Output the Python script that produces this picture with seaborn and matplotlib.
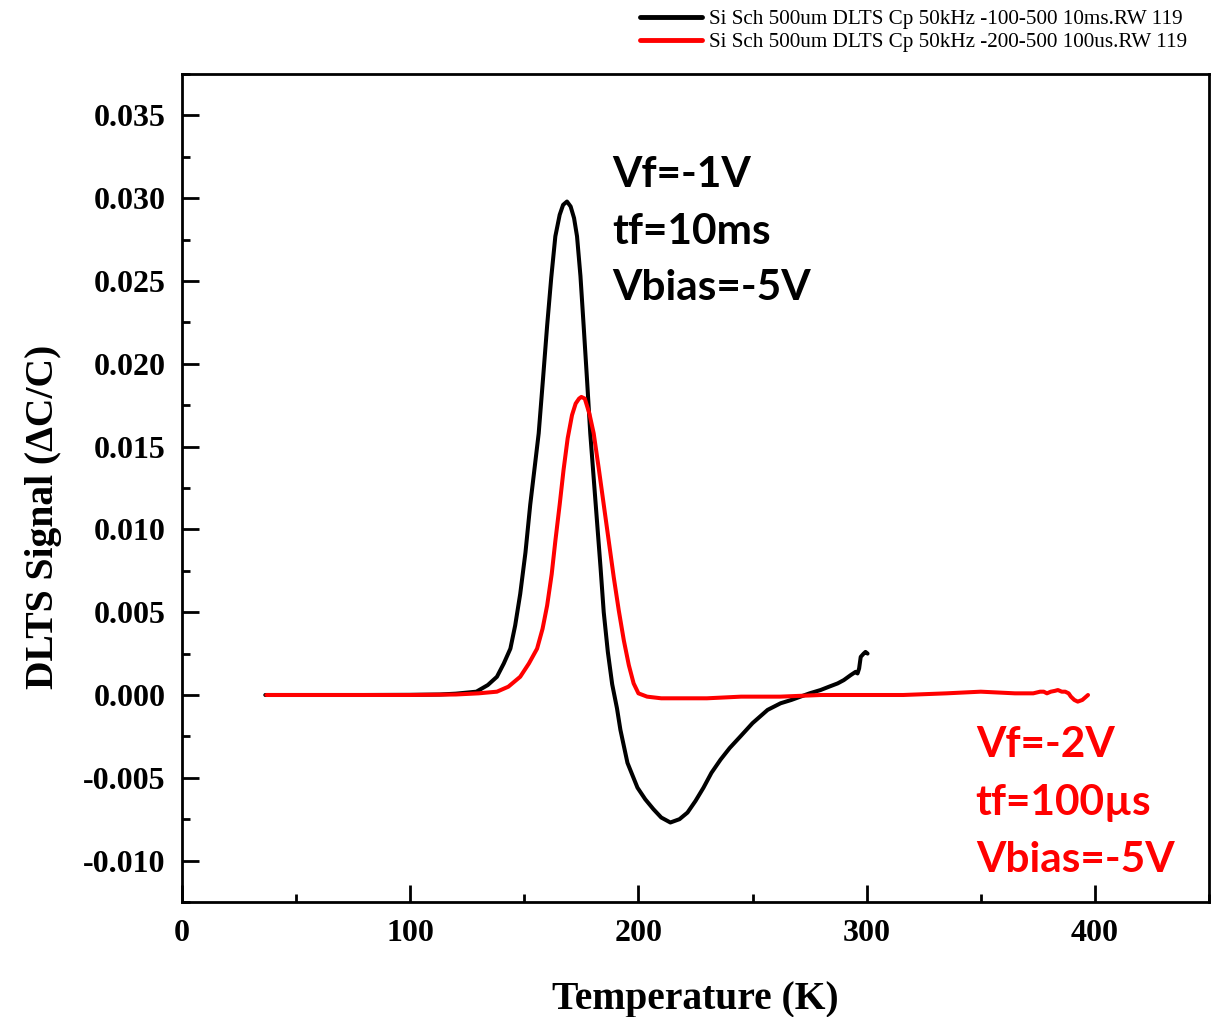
import numpy as np
import pandas as pd
import matplotlib
matplotlib.use("Agg")
import matplotlib.pyplot as plt
import seaborn as sns
from matplotlib.ticker import MultipleLocator, FormatStrFormatter

# 10 ms filling pulse curve (black)
t_10ms = [36.5, 60, 80, 100, 113, 120, 129, 134, 138, 141, 143.9, 146, 148.2,
          150.5, 152.6, 154.5, 156.3, 158.2, 160, 161.8, 163.6, 165.5, 167,
          168.7, 170.3, 171.8, 173.1, 174.6, 176, 177.5, 178.9, 180.4, 181.9,
          183.4, 184.8, 186.6, 188.5, 190.6, 192.1, 195.2, 199.6, 203, 206.6,
          210, 214, 218, 221.5, 225, 228.5, 232, 236, 240, 244.7, 250, 256.6,
          262.3, 267, 271, 275, 279.8, 283.5, 287.3, 290, 293, 295.2, 296,
          296.7, 297.4, 298.7, 299.5, 300.4]
s_10ms = [0.0, 0.0, 0.0, 0.00001, 0.00003, 0.00008, 0.0002, 0.0006, 0.0011,
          0.0019, 0.0028, 0.0042, 0.0061, 0.0086, 0.0115, 0.0137, 0.0158,
          0.0191, 0.0223, 0.0252, 0.0277, 0.0290, 0.0296, 0.0298, 0.0295,
          0.0288, 0.0277, 0.0253, 0.0223, 0.0190, 0.0158, 0.0131, 0.0104,
          0.0077, 0.0050, 0.0026, 0.00065, -0.0008, -0.0021, -0.0041, -0.0056,
          -0.0063, -0.0069, -0.0074, -0.0077, -0.0075, -0.0071, -0.0064,
          -0.0056, -0.0047, -0.0039, -0.0032, -0.0025, -0.0017, -0.0009,
          -0.0005, -0.0003, -0.0001, 0.0001, 0.0003, 0.0005, 0.0007, 0.0009,
          0.0012, 0.0014, 0.0013, 0.0016, 0.0023, 0.0025, 0.0026, 0.0025]

# 100 us filling pulse curve (red)
t_100us = [37, 60, 80, 100, 120, 130, 138, 143, 148.2, 152, 155.6, 158, 160,
           162, 163.6, 165.5, 167.2, 169, 170.9, 172.5, 174, 175, 176.5, 178.5,
           180.4, 182.6, 184.8, 187, 189.2, 191.4, 193.6, 195.8, 197.9, 200,
           203.8, 210, 220, 230, 245, 262, 280, 300, 316, 335, 350, 365, 373,
           376, 377.6, 379, 380.7, 382.5, 383.8, 385.5, 387, 388.5, 389.5, 391,
           392.5, 394.5, 397]
s_100us = [0.0, 0.0, 0.0, 0.0, 0.00003, 0.0001, 0.0002, 0.0005, 0.0011, 0.0019,
           0.0028, 0.0040, 0.0054, 0.0073, 0.0093, 0.0115, 0.0136, 0.0155,
           0.0169, 0.0176, 0.0179, 0.0180, 0.0179, 0.0170, 0.0158, 0.0137,
           0.0115, 0.0093, 0.0071, 0.0051, 0.0033, 0.0018, 0.0007, 0.0001,
           -0.0001, -0.0002, -0.0002, -0.0002, -0.0001, -0.0001, 0.0, 0.0, 0.0,
           0.0001, 0.0002, 0.0001, 0.0001, 0.0002, 0.0002, 0.0001, 0.0002,
           0.00025, 0.0003, 0.0002, 0.0002, 0.0001, -0.0001, -0.0003, -0.0004,
           -0.0003, 0.0]

names = ["Si Sch 500um DLTS Cp 50kHz -100-500 10ms.RW 119",
         "Si Sch 500um DLTS Cp 50kHz -200-500 100us.RW 119"]
colors = ["black", "#ff0000"]

notes_black = ["Vf=-1V", "tf=10ms", "Vbias=-5V"]
notes_red = ["Vf=-2V", "tf=100\u00b5s", "Vbias=-5V"]

df = pd.concat([
    pd.DataFrame({"T": t_10ms, "S": s_10ms, "run": names[0]}),
    pd.DataFrame({"T": t_100us, "S": s_100us, "run": names[1]}),
])

sns.set_style("ticks", {"axes.edgecolor": "black", "text.color": "black",
                        "axes.labelcolor": "black", "xtick.color": "black",
                        "ytick.color": "black"})
plt.rcParams["font.family"] = ["Liberation Serif", "DejaVu Serif"]

fig = plt.figure(figsize=(12.18, 10.17), dpi=100)
ax = fig.add_axes([0.1494, 0.1131, 0.8432, 0.8141])

sns.lineplot(data=df, x="T", y="S", hue="run", palette=colors,
             sort=False, estimator=None, linewidth=2.9, ax=ax, legend=False)

ax.set_xlim(0, 450)
ax.set_ylim(-0.0125, 0.0375)
ax.xaxis.set_minor_locator(MultipleLocator(50))
ax.yaxis.set_minor_locator(MultipleLocator(0.0025))
ax.set_xticks([0, 100, 200, 300, 400])
ax.set_yticks(np.arange(-0.010, 0.0351, 0.005))
ax.yaxis.set_major_formatter(FormatStrFormatter("%.3f"))

ax.tick_params(which="both", direction="in", width=2, top=False, right=False)
ax.tick_params(which="major", length=12, labelsize=23, pad=12)
ax.tick_params(which="minor", length=6)
for lab in ax.get_xticklabels() + ax.get_yticklabels():
    lab.set_fontweight("bold")
for sp in ax.spines.values():
    sp.set_linewidth(2)
    sp.set_visible(True)

ax.set_xlabel("Temperature (K)", fontsize=28.5, fontweight="bold", labelpad=24)
ax.set_ylabel("DLTS Signal (\u0394C/C)", fontsize=28.5, fontweight="bold")
ax.yaxis.set_label_coords(-0.117, 0.4656)

for txt, y in zip(notes_black, [0.03066, 0.02722, 0.02384]):
    ax.text(188.6, y, txt, color="black", fontsize=30.5, fontweight="bold",
            family="Lato", va="baseline", ha="left")
for txt, y in zip(notes_red, [-0.00374, -0.00724, -0.01068]):
    ax.text(347.8, y, txt, color="#ff0000", fontsize=30.5, fontweight="bold",
            family="Lato", va="baseline", ha="left")

handles = [plt.Line2D([], [], color=c, linewidth=3.5) for c in colors]
fig.legend(handles, names, loc="upper right", bbox_to_anchor=(0.985, 1.003),
           frameon=False, fontsize=15.2, handlelength=2.9, handletextpad=0.35,
           labelspacing=0.15, borderaxespad=0.2)

fig.savefig("out.png", dpi=100)
